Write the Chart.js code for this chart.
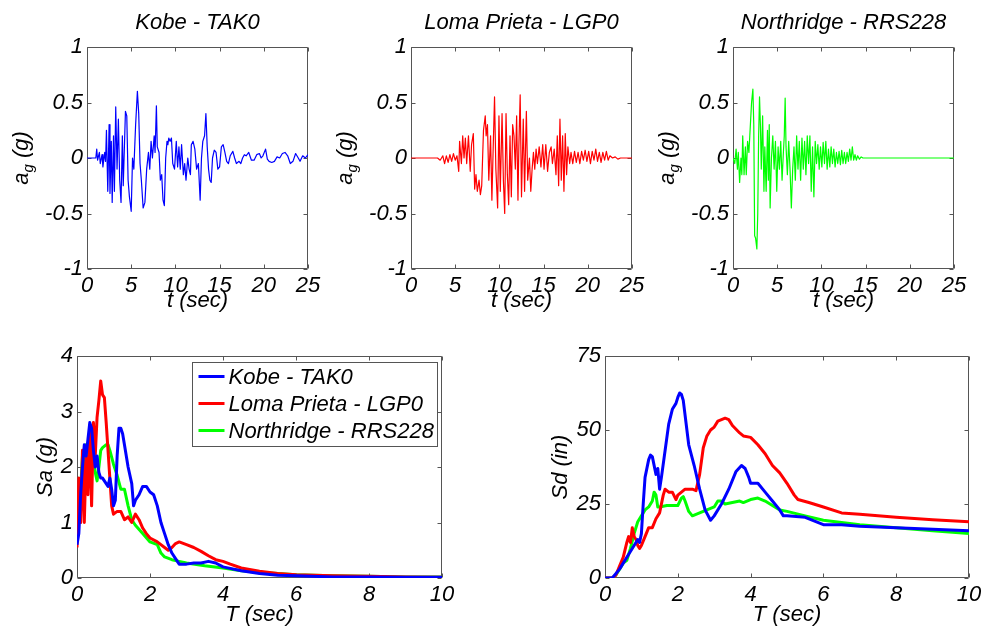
<!DOCTYPE html>
<html>
<head>
<meta charset="utf-8">
<script src="https://cdn.jsdelivr.net/npm/chart.js@4.4.1/dist/chart.umd.min.js"></script>
<style>
  html, body { margin: 0; padding: 0; background: #fff; }
  body { width: 982px; height: 626px; position: relative; overflow: hidden; }
  canvas { position: absolute; }
</style>
</head>
<body>
<canvas id="kobeChart" width="325" height="320" style="left:0;top:0"></canvas>
<canvas id="lomaChart" width="325" height="320" style="left:330px;top:0"></canvas>
<canvas id="northChart" width="327" height="320" style="left:655px;top:0"></canvas>
<canvas id="saChart" width="490" height="296" style="left:0;top:330px"></canvas>
<canvas id="sdChart" width="482" height="296" style="left:500px;top:330px"></canvas>
<script>
// record names
const recordNames = ['Kobe - TAK0', 'Loma Prieta - LGP0', 'Northridge - RRS228'];
const recordColors = ['#0000ff', '#ff0000', '#00ff00'];

// ground accelerations [t (sec), a_g (g)]
const kobeAcc = [[0,0],[1.0,0],[1.1,0.08],[1.2,-0.02],[1.4,0.05],[1.5,-0.05],[1.7,0.03],[1.8,-0.08],[2.0,0.05],[2.1,-0.03],[2.2,0.25],[2.35,-0.3],[2.5,0.3],[2.6,-0.32],[2.75,0.15],[2.85,-0.4],[3.0,0.2],[3.1,-0.3],[3.25,0.46],[3.4,-0.1],[3.55,0.35],[3.7,-0.2],[3.85,-0.4],[4.0,0.2],[4.1,-0.25],[4.35,0.42],[4.5,0.38],[4.65,-0.2],[4.8,-0.35],[5.0,-0.48],[5.15,0.0],[5.3,-0.1],[5.5,0.3],[5.7,0.6],[5.85,0.4],[6.0,-0.05],[6.15,-0.2],[6.35,-0.45],[6.55,-0.4],[6.75,-0.1],[6.95,0.05],[7.1,-0.1],[7.25,0.15],[7.4,0.0],[7.6,0.2],[7.7,0.05],[7.85,0.47],[7.95,0.1],[8.15,0.05],[8.3,-0.2],[8.45,-0.15],[8.6,-0.38],[8.75,-0.43],[8.9,0.0],[9.05,0.15],[9.15,0.12],[9.25,0.18],[9.4,0.15],[9.55,0.18],[9.7,-0.05],[9.9,-0.1],[10.1,0.15],[10.25,-0.08],[10.4,0.1],[10.55,-0.1],[10.7,0.12],[10.9,-0.15],[11.05,-0.05],[11.2,-0.2],[11.4,0.0],[11.55,-0.1],[11.7,-0.15],[11.8,0.12],[12.0,0.15],[12.2,0.08],[12.4,-0.1],[12.6,-0.05],[12.8,-0.38],[12.95,0.0],[13.1,0.15],[13.3,0.2],[13.45,0.4],[13.6,0.1],[13.75,-0.1],[13.9,-0.2],[14.05,-0.22],[14.2,0.0],[14.4,0.07],[14.6,0.05],[14.8,-0.1],[15.0,-0.08],[15.2,0.1],[15.4,0.12],[15.6,0.05],[15.8,-0.03],[16.0,-0.05],[16.2,0.02],[16.5,0.06],[16.7,0.0],[16.9,-0.05],[17.2,-0.03],[17.4,-0.05],[17.6,0.0],[17.8,0.03],[18.0,0.02],[18.3,0.05],[18.6,-0.02],[18.9,-0.02],[19.2,0.03],[19.5,0.04],[19.7,0.0],[19.9,0.02],[20.2,0.08],[20.4,-0.01],[20.6,-0.03],[20.9,-0.04],[21.2,-0.03],[21.5,0.01],[21.8,0.0],[22.1,0.04],[22.4,0.05],[22.7,0.02],[23.0,-0.05],[23.3,-0.03],[23.6,0.04],[23.9,0.0],[24.1,-0.03],[24.4,0.02],[24.7,0.0],[25.0,0.03]];

const lomaAcc = [[0,0],[3.0,0],[3.3,-0.02],[3.6,0.02],[3.8,-0.05],[4.0,0.02],[4.2,-0.04],[4.4,0.03],[4.6,-0.03],[4.8,0.04],[5.0,-0.02],[5.2,0.02],[5.4,-0.12],[5.5,0.15],[5.7,-0.05],[5.85,0.2],[6.0,0.0],[6.15,0.18],[6.3,-0.05],[6.5,0.2],[6.7,-0.12],[6.85,0.12],[7.05,0.22],[7.2,-0.28],[7.35,-0.15],[7.5,-0.3],[7.7,-0.2],[7.85,-0.33],[8.0,-0.25],[8.2,0.25],[8.4,0.38],[8.5,0.2],[8.65,0.3],[8.8,-0.2],[9.0,0.2],[9.15,-0.38],[9.3,0.1],[9.45,0.55],[9.6,-0.1],[9.8,-0.45],[9.95,0.38],[10.1,-0.3],[10.3,0.4],[10.45,-0.2],[10.6,-0.5],[10.75,0.4],[10.9,-0.15],[11.05,-0.42],[11.2,0.2],[11.35,-0.35],[11.5,0.3],[11.65,0.2],[11.8,-0.1],[11.95,0.38],[12.1,-0.38],[12.2,0.1],[12.35,0.57],[12.5,-0.35],[12.7,0.35],[12.85,-0.3],[13.05,0.42],[13.2,-0.2],[13.4,0.0],[13.55,-0.3],[13.7,-0.1],[13.85,0.05],[14.0,-0.1],[14.15,0.08],[14.3,-0.05],[14.5,0.1],[14.7,-0.08],[14.9,0.12],[15.05,-0.1],[15.25,0.12],[15.45,-0.12],[15.65,0.05],[15.85,0.1],[16.0,-0.05],[16.2,0.08],[16.4,-0.15],[16.55,0.2],[16.7,-0.25],[16.85,0.35],[17.0,-0.2],[17.15,0.2],[17.3,-0.3],[17.45,0.22],[17.6,-0.15],[17.75,0.1],[17.95,-0.05],[18.1,0.05],[18.3,-0.05],[18.5,0.06],[18.7,-0.04],[18.9,0.05],[19.1,-0.05],[19.3,0.06],[19.5,-0.02],[19.7,0.07],[19.9,-0.03],[20.1,0.06],[20.3,-0.05],[20.5,0.06],[20.7,-0.02],[20.9,0.08],[21.1,-0.03],[21.3,0.05],[21.5,-0.04],[21.7,0.05],[21.9,-0.02],[22.1,0.06],[22.3,-0.02],[22.5,0.02],[22.8,0.0],[23.1,0.01],[23.4,-0.01],[23.7,0.0],[25.0,0.0]];

const northAcc = [[0,0],[0.2,-0.05],[0.35,0.08],[0.5,-0.1],[0.6,0.05],[0.75,-0.22],[0.9,0.0],[1.0,-0.15],[1.1,0.2],[1.25,-0.15],[1.4,0.1],[1.5,-0.15],[1.65,0.15],[1.8,0.05],[1.9,0.2],[2.0,0.35],[2.1,0.5],[2.25,0.62],[2.35,0.3],[2.45,-0.7],[2.55,-0.72],[2.7,-0.82],[2.8,-0.5],[2.9,0.2],[3.0,0.55],[3.1,0.3],[3.2,-0.1],[3.35,0.38],[3.5,-0.3],[3.6,0.1],[3.75,-0.3],[3.9,0.25],[4.0,-0.2],[4.1,0.3],[4.2,-0.45],[4.35,0.0],[4.5,0.2],[4.65,-0.1],[4.8,0.15],[4.95,-0.3],[5.1,0.1],[5.25,-0.1],[5.4,0.15],[5.55,-0.2],[5.7,0.05],[5.8,0.2],[5.9,0.54],[6.0,0.1],[6.15,-0.15],[6.3,0.15],[6.45,-0.1],[6.6,-0.45],[6.75,-0.1],[6.9,0.1],[7.05,-0.2],[7.2,0.2],[7.35,-0.1],[7.5,0.15],[7.65,-0.2],[7.8,0.18],[7.95,-0.1],[8.1,0.15],[8.25,-0.15],[8.4,0.2],[8.55,-0.05],[8.7,0.2],[8.85,-0.3],[9.0,0.1],[9.15,-0.35],[9.3,0.15],[9.45,-0.05],[9.6,0.12],[9.75,-0.1],[9.9,0.1],[10.05,-0.08],[10.2,0.14],[10.35,-0.05],[10.5,0.15],[10.65,-0.1],[10.8,0.08],[10.95,-0.08],[11.1,0.1],[11.25,-0.05],[11.4,0.08],[11.55,-0.08],[11.7,0.05],[11.85,-0.05],[12.0,0.06],[12.15,-0.06],[12.3,0.07],[12.45,-0.05],[12.6,0.05],[12.75,-0.05],[12.9,0.05],[13.05,-0.03],[13.2,0.08],[13.35,-0.02],[13.5,0.1],[13.65,-0.02],[13.8,0.03],[13.95,-0.02],[14.1,0.02],[14.3,-0.01],[14.5,0.01],[14.7,0.0],[25.0,0.0]];

// spectral acceleration [T (sec), Sa (g)]
const kobeSa = [[0,0.6],[0.05,0.8],[0.1,1.5],[0.15,2.0],[0.2,2.4],[0.25,2.2],[0.3,2.5],[0.35,2.8],[0.4,2.7],[0.45,2.3],[0.5,2.0],[0.55,2.2],[0.6,1.9],[0.65,1.8],[0.7,1.8],[0.8,1.7],[0.85,1.65],[0.9,1.8],[0.95,1.6],[1.0,1.3],[1.05,1.4],[1.1,2.2],[1.15,2.7],[1.2,2.7],[1.25,2.6],[1.3,2.4],[1.4,2.0],[1.5,1.7],[1.55,1.3],[1.6,1.4],[1.7,1.5],[1.8,1.65],[1.9,1.65],[2.0,1.55],[2.1,1.5],[2.2,1.3],[2.3,1.0],[2.4,0.8],[2.5,0.6],[2.6,0.45],[2.7,0.35],[2.8,0.25],[2.9,0.25],[3.0,0.25],[3.2,0.27],[3.4,0.27],[3.6,0.3],[3.8,0.27],[4.0,0.2],[4.5,0.13],[5.0,0.08],[5.5,0.05],[6.0,0.04],[7.0,0.02],[8.0,0.02],[9.0,0.015],[10.0,0.015]];
const lomaSa = [[0,0.55],[0.05,1.8],[0.1,1.0],[0.15,2.3],[0.2,1.0],[0.25,2.2],[0.3,1.5],[0.35,2.7],[0.4,1.3],[0.45,2.8],[0.5,2.2],[0.55,2.9],[0.6,3.2],[0.65,3.55],[0.7,3.3],[0.75,3.25],[0.8,2.8],[0.85,2.3],[0.9,1.8],[0.95,1.3],[1.0,1.15],[1.1,1.2],[1.2,1.2],[1.3,1.05],[1.4,1.1],[1.5,1.0],[1.6,1.15],[1.7,1.05],[1.8,0.9],[1.9,0.8],[2.0,0.72],[2.2,0.65],[2.4,0.55],[2.5,0.5],[2.6,0.55],[2.7,0.62],[2.8,0.65],[3.0,0.6],[3.2,0.55],[3.4,0.48],[3.6,0.4],[3.8,0.33],[4.0,0.3],[4.2,0.25],[4.5,0.18],[5.0,0.12],[5.5,0.08],[6.0,0.06],[7.0,0.04],[8.0,0.03],[9.0,0.02],[10.0,0.015]];
const northSa = [[0,0.85],[0.05,1.1],[0.1,1.6],[0.15,2.2],[0.2,1.5],[0.25,2.4],[0.3,1.8],[0.35,2.75],[0.4,2.0],[0.45,2.2],[0.5,1.9],[0.55,1.75],[0.6,2.0],[0.65,2.3],[0.7,2.35],[0.8,2.4],[0.85,2.4],[0.9,2.3],[1.0,2.05],[1.1,1.85],[1.2,1.6],[1.3,1.6],[1.4,1.3],[1.5,1.05],[1.6,0.95],[1.8,0.8],[2.0,0.65],[2.2,0.6],[2.3,0.45],[2.4,0.38],[2.6,0.33],[2.8,0.3],[3.0,0.27],[3.5,0.22],[4.0,0.18],[4.5,0.13],[5.0,0.1],[5.5,0.08],[6.0,0.06],[7.0,0.04],[8.0,0.03],[9.0,0.02],[10.0,0.02]];

// spectral displacement [T (sec), Sd (in)]
const kobeSd = [[0,0],[0.2,0],[0.4,3],[0.6,7],[0.8,11],[0.9,13],[0.95,12],[1.0,15],[1.05,25],[1.1,34],[1.2,40],[1.25,41.5],[1.3,41],[1.4,35],[1.45,37],[1.5,30],[1.55,34],[1.65,43],[1.75,52],[1.85,57],[1.95,59],[2.0,61],[2.05,62.5],[2.1,62],[2.15,60],[2.25,50],[2.3,45],[2.45,38],[2.6,30],[2.75,23],[2.9,19.5],[3.0,21],[3.2,25],[3.4,30],[3.6,36],[3.75,38],[3.85,37],[3.95,34],[4.0,32],[4.2,32],[4.4,29],[4.6,26],[4.8,23],[4.9,21],[5.0,21],[5.5,20.5],[6.0,18],[6.5,18],[7.0,17.5],[8.0,17],[9.0,16.5],[10.0,16]];
const lomaSd = [[0,0],[0.2,0],[0.3,1],[0.4,4],[0.5,7],[0.6,12],[0.65,14],[0.7,12],[0.75,17],[0.8,14],[0.85,13],[0.9,11],[0.95,10],[1.0,11],[1.1,14],[1.2,17],[1.3,17],[1.4,20],[1.5,22],[1.6,28],[1.65,30],[1.75,29],[1.85,29],[1.95,26.5],[2.0,28],[2.1,29],[2.2,30],[2.4,30],[2.5,29.5],[2.6,35],[2.7,44],[2.8,48],[2.9,50],[3.0,51],[3.1,53],[3.3,54],[3.4,53.5],[3.5,51.5],[3.7,49],[3.8,48],[4.0,47.5],[4.2,45],[4.4,42],[4.6,38],[4.8,35.5],[5.0,32],[5.2,28],[5.3,26.5],[5.6,25.5],[6.0,24],[6.5,22],[7.0,21.5],[8.0,20.5],[9.0,19.7],[10.0,19]];
const northSd = [[0,0],[0.2,0],[0.3,1],[0.4,3],[0.5,5],[0.6,6],[0.7,10],[0.8,15],[0.9,19],[1.0,21],[1.1,23],[1.2,24],[1.3,26],[1.35,29],[1.4,28],[1.45,24],[1.5,24],[1.7,24.5],[1.9,24.5],[2.0,24.5],[2.1,27],[2.15,27.5],[2.2,26],[2.3,22.5],[2.4,21],[2.6,22],[2.8,23],[3.0,24],[3.1,26],[3.2,26],[3.3,25],[3.5,25.5],[3.7,26],[3.8,25.5],[4.0,26.5],[4.2,27],[4.4,26],[4.6,24.5],[4.8,23],[5.0,22.5],[5.5,21],[6.0,19.5],[7.0,18],[8.0,17],[9.0,16],[10.0,15]];

// tick values
const timeTicks = [0, 5, 10, 15, 20, 25];
const accTicks = [-1, -0.5, 0, 0.5, 1];
const periodTicks = [0, 2, 4, 6, 8, 10];
const saTicks = [0, 1, 2, 3, 4];
const sdTicks = [0, 25, 50, 75];

const axisColor = '#555555';
const fontFamily = "'Liberation Sans', Arial, sans-serif";
const fontSize = 22;

Chart.defaults.font.family = fontFamily;
Chart.defaults.font.size = fontSize;
Chart.defaults.font.style = 'italic';
Chart.defaults.color = '#000';
Chart.defaults.animation = false;

const toPoints = rows => rows.map(r => ({ x: r[0], y: r[1] }));

// box around the axes with inward ticks on all four sides
const boxPlugin = {
  id: 'axesBox',
  beforeDatasetsDraw(chart) {
    const { ctx, chartArea: a, scales } = chart;
    const L = Math.round(a.left) + 0.5, R = Math.round(a.right) - 0.5;
    const T = Math.round(a.top) + 0.5, B = Math.round(a.bottom) - 0.5;
    const len = 4;
    ctx.save();
    ctx.strokeStyle = axisColor;
    ctx.lineWidth = 1;
    ctx.beginPath();
    scales.x.ticks.forEach(t => {
      const px = Math.round(scales.x.getPixelForValue(t.value)) + 0.5;
      ctx.moveTo(px, B); ctx.lineTo(px, B - len);
      ctx.moveTo(px, T); ctx.lineTo(px, T + len);
    });
    scales.y.ticks.forEach(t => {
      const py = Math.round(scales.y.getPixelForValue(t.value)) + 0.5;
      ctx.moveTo(L, py); ctx.lineTo(L + len, py);
      ctx.moveTo(R, py); ctx.lineTo(R - len, py);
    });
    ctx.rect(L, T, R - L, B - T);
    ctx.stroke();
    ctx.restore();
  }
};

// rotated "a_g (g)" label with a subscript
const accLabelPlugin = {
  id: 'accLabel',
  afterDraw(chart, args, opts) {
    if (!opts.display) return;
    const { ctx, chartArea: a } = chart;
    const big = `italic ${fontSize}px ${fontFamily}`;
    const small = `italic 15px ${fontFamily}`;
    ctx.save();
    ctx.fillStyle = '#000';
    ctx.textBaseline = 'alphabetic';
    ctx.font = big;
    const wa = ctx.measureText('a').width;
    const wr = ctx.measureText(' (g)').width;
    ctx.font = small;
    const wg = ctx.measureText('g').width;
    const total = wa + wg + wr;
    ctx.translate(opts.x, (a.top + a.bottom) / 2);
    ctx.rotate(-Math.PI / 2);
    let sx = -total / 2;
    ctx.font = big;
    ctx.fillText('a', sx, 0);
    sx += wa;
    ctx.font = small;
    ctx.fillText('g', sx, 5);
    sx += wg;
    ctx.font = big;
    ctx.fillText(' (g)', sx, 0);
    ctx.restore();
  }
};

// legend box drawn inside the axes
const boxLegendPlugin = {
  id: 'boxLegend',
  afterDraw(chart, args, opts) {
    if (!opts.display) return;
    const { ctx, chartArea: a } = chart;
    const w = 245, h = 84;
    const left = Math.round(a.right) - 5 - w + 0.5;
    const top = Math.round(a.top) + 6 + 0.5;
    ctx.save();
    ctx.fillStyle = '#fff';
    ctx.strokeStyle = axisColor;
    ctx.lineWidth = 1;
    ctx.fillRect(left, top, w, h);
    ctx.strokeRect(left, top, w, h);
    ctx.font = `italic ${fontSize}px ${fontFamily}`;
    ctx.textBaseline = 'middle';
    chart.data.datasets.forEach((ds, i) => {
      const y = top + 14 + i * 27;
      ctx.strokeStyle = ds.borderColor;
      ctx.lineWidth = 3;
      ctx.beginPath();
      ctx.moveTo(left + 6, y);
      ctx.lineTo(left + 32, y);
      ctx.stroke();
      ctx.fillStyle = '#000';
      ctx.fillText(ds.label, left + 36, y + 1);
    });
    ctx.restore();
  }
};

function fixedTicks(values) {
  return scale => { scale.ticks = values.map(v => ({ value: v })); };
}

function makeChart(id, opts) {
  const datasets = opts.series.map(s => ({
    label: s.label,
    data: toPoints(s.data),
    borderColor: s.color,
    borderWidth: opts.lineWidth,
    pointRadius: 0,
    tension: 0,
    fill: false,
    borderJoinStyle: 'round'
  }));
  return new Chart(document.getElementById(id), {
    type: 'line',
    data: { datasets },
    options: {
      responsive: false,
      devicePixelRatio: 1,
      layout: { padding: { top: opts.padTop, right: opts.padRight, left: 0, bottom: 0 } },
      plugins: {
        legend: { display: false },
        tooltip: { enabled: false },
        title: {
          display: !!opts.title,
          text: opts.title,
          fullSize: false,
          font: { size: fontSize, style: 'italic', weight: 'normal', lineHeight: '25px' },
          padding: { top: 10, bottom: 12 }
        },
        accLabel: { display: !!opts.accLabel, x: opts.accLabelX },
        boxLegend: { display: !!opts.legend }
      },
      scales: {
        x: {
          type: 'linear',
          min: opts.xMin, max: opts.xMax,
          afterBuildTicks: fixedTicks(opts.xTicks),
          afterFit: scale => {
            scale.height = opts.xAxisHeight;
            scale.paddingLeft = 0;
            scale.paddingRight = 0;
          },
          grid: { display: false, drawTicks: false },
          border: { display: false },
          ticks: { padding: opts.xTickPad, maxRotation: 0, autoSkip: false, callback: v => String(v) },
          title: {
            display: true,
            text: opts.xTitle,
            font: { size: fontSize, style: 'italic' },
            padding: { top: 0, bottom: opts.xTitlePad }
          }
        },
        y: {
          type: 'linear',
          min: opts.yMin, max: opts.yMax,
          afterBuildTicks: fixedTicks(opts.yTicks),
          afterFit: scale => {
            scale.width = opts.yAxisWidth;
            scale.paddingTop = 0;
            scale.paddingBottom = 0;
          },
          grid: { display: false, drawTicks: false },
          border: { display: false },
          ticks: { padding: 4, callback: v => String(v) },
          title: {
            display: !!opts.yTitle,
            text: opts.yTitle,
            font: { size: fontSize, style: 'italic' },
            padding: { top: opts.yTitlePad, bottom: 0 }
          }
        }
      }
    },
    plugins: [boxPlugin, accLabelPlugin, boxLegendPlugin]
  });
}

// ground motion records
const accRecords = [kobeAcc, lomaAcc, northAcc];
const accCanvas = ['kobeChart', 'lomaChart', 'northChart'];
const accAxisWidth = [87, 81, 78];
const accPadRight = [17, 23, 28];
const accLabelX = [28, 22, 19];
accRecords.forEach((rec, i) => {
  makeChart(accCanvas[i], {
    title: recordNames[i],
    series: [{ label: recordNames[i], data: rec, color: recordColors[i] }],
    lineWidth: 1.2,
    padTop: 0, padRight: accPadRight[i],
    xAxisHeight: 51, yAxisWidth: accAxisWidth[i],
    xMin: 0, xMax: 25, xTicks: timeTicks, xTitle: 't (sec)', xTitlePad: 6, xTickPad: 4,
    yMin: -1, yMax: 1, yTicks: accTicks,
    accLabel: true, accLabelX: accLabelX[i]
  });
});

// acceleration response spectra
makeChart('saChart', {
  series: [
    { label: recordNames[0], data: kobeSa, color: recordColors[0] },
    { label: recordNames[1], data: lomaSa, color: recordColors[1] },
    { label: recordNames[2], data: northSa, color: recordColors[2] }
  ],
  lineWidth: 3,
  padTop: 26, padRight: 48,
  xAxisHeight: 48, yAxisWidth: 77,
  xMin: 0, xMax: 10, xTicks: periodTicks, xTitle: 'T (sec)', xTitlePad: -2, xTickPad: 4,
  yMin: 0, yMax: 4, yTicks: saTicks, yTitle: 'Sa (g)', yTitlePad: 33,
  legend: true
});

// displacement response spectra
makeChart('sdChart', {
  series: [
    { label: recordNames[0], data: kobeSd, color: recordColors[0] },
    { label: recordNames[1], data: lomaSd, color: recordColors[1] },
    { label: recordNames[2], data: northSd, color: recordColors[2] }
  ],
  lineWidth: 3,
  padTop: 26, padRight: 13,
  xAxisHeight: 48, yAxisWidth: 105,
  xMin: 0, xMax: 10, xTicks: periodTicks, xTitle: 'T (sec)', xTitlePad: -2, xTickPad: 4,
  yMin: 0, yMax: 75, yTicks: sdTicks, yTitle: 'Sd (in)', yTitlePad: 48
});
</script>
</body>
</html>
